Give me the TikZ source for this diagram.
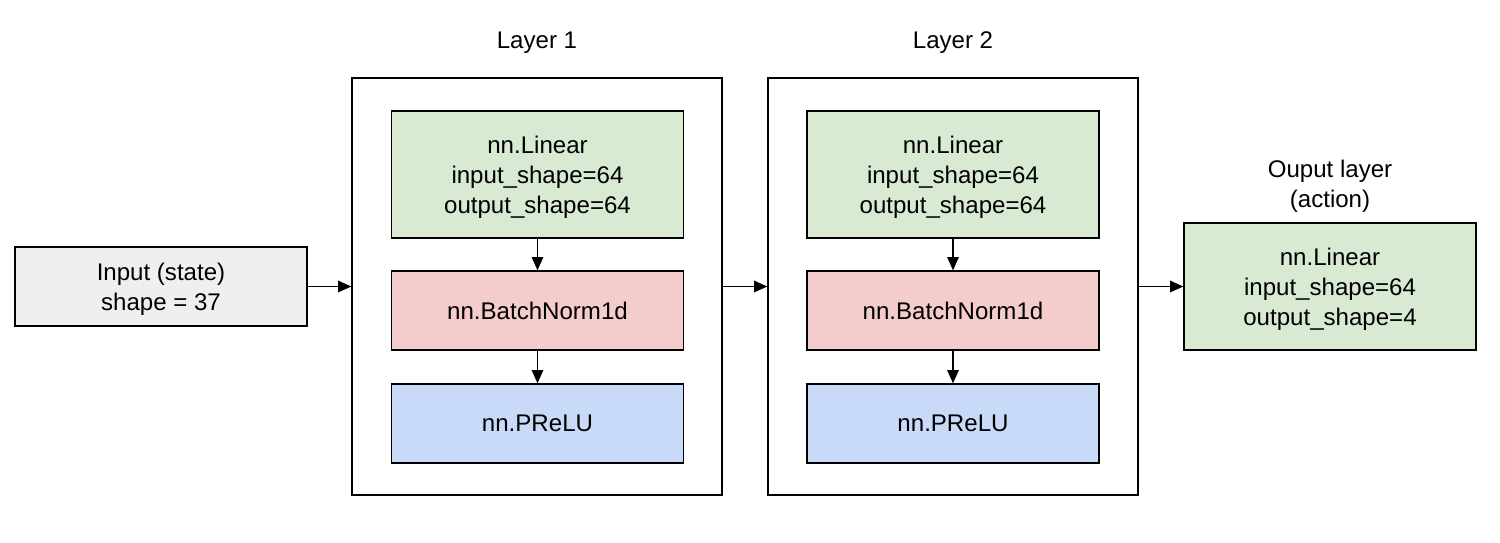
\documentclass[tikz,border=0pt]{standalone}
\usepackage{fontspec}
\setmainfont{Liberation Sans}
\usetikzlibrary{arrows.meta}

\definecolor{inputgray}{HTML}{EFEFEF}
\definecolor{lineargreen}{HTML}{D9EAD3}
\definecolor{normpink}{HTML}{F4CCCC}
\definecolor{actblue}{HTML}{C9DAF8}

\begin{document}
\begin{tikzpicture}[%
        x = 0.02cm, y = -0.02cm,
        every node/.style = {%
            font = \fontsize{13.7}{17}\selectfont, align = center,
            text depth = 0pt
        },
        block/.style = {%
            draw, line width = 0.75pt, inner sep = 0pt,
            minimum width = 5.84cm, minimum height = 1.58cm
        },
        tallblock/.style = {block, minimum height = 2.54cm},
        layerbox/.style = {%
            draw, line width = 0.75pt, fill = white, inner sep = 0pt,
            minimum width = 7.4cm, minimum height = 8.34cm
        },
        flow/.style = {%
            line width = 0.75pt,
            -{Triangle[length = 7.5pt, width = 6.5pt]}
        }
    ]

        % Fix the page size.
        \useasboundingbox (0, 0) rectangle (1500, 543);

        % Input block.
        \node[block, fill = inputgray] (in) at (161, 286.5)
            {Input (state)\\shape = 37};

        % Outer boxes for the two layers.
        \node[layerbox] (l1) at (537, 286.5) {};
        \node[layerbox] (l2) at (953, 286.5) {};
        \node at (537, 40) {Layer 1};
        \node at (953, 40) {Layer 2};

        % Blocks inside each layer.
        \foreach\l/\x in {1/537.5, 2/953}{%
            \node[tallblock, fill = lineargreen] (lin\l) at (\x, 174.5)
                {nn.Linear\\input\_shape=64\\output\_shape=64};
            \node[block, fill = normpink] (bn\l) at (\x, 310.5) {nn.BatchNorm1d};
            \node[block, fill = actblue] (act\l) at (\x, 423.5) {nn.PReLU};
            \draw[flow] (lin\l) to (bn\l);
            \draw[flow] (bn\l) to (act\l);
        }

        % Output block.
        \node[tallblock, fill = lineargreen] (out) at (1330, 286.5)
            {nn.Linear\\input\_shape=64\\output\_shape=4};
        \node at (1330, 184) {Ouput layer\\(action)};

        % Arrows between the stages.
        \draw[flow] (in) to (l1);
        \draw[flow] (l1) to (l2);
        \draw[flow] (l2) to (out);
    \end{tikzpicture}
\end{document}
